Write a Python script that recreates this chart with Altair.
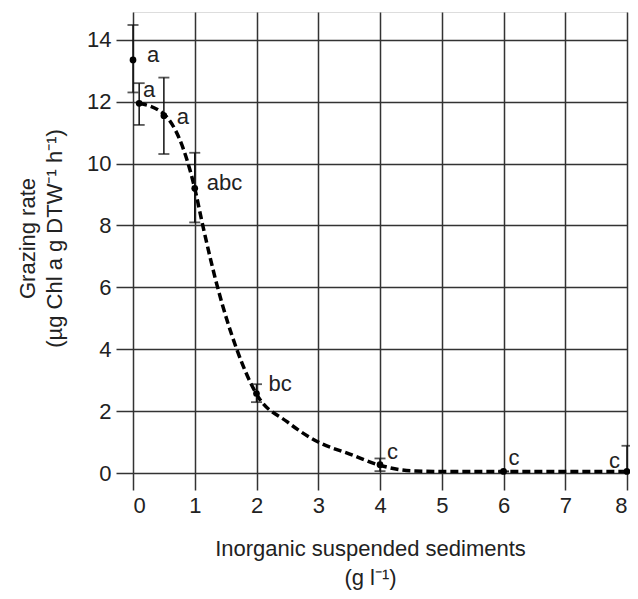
import altair as alt
import pandas as pd

# Observed means with error bars
conc = [0, 0.1, 0.5, 1, 2, 4, 6, 8]
rate = [13.35, 11.95, 11.55, 9.2, 2.57, 0.27, 0.05, 0.05]
err_hi = [14.48, 12.6, 12.78, 10.35, 2.87, 0.47, 0.05, 0.88]
err_lo = [12.3, 11.25, 10.31, 8.1, 2.29, 0.06, 0.05, 0.05]
letters = ["a", "a", "a", "abc", "bc", "c", "c", "c"]

# Fitted dashed curve
curve_x = [0.1, 0.5, 1.0, 1.13, 1.37, 1.68, 2.0, 2.5, 3.0, 3.5, 4.0, 4.5, 5.0, 6.0, 7.0, 8.0]
curve_y = [11.95, 11.6, 9.2, 8.0, 6.0, 4.0, 2.55, 1.65, 1.0, 0.62, 0.25, 0.07, 0.05, 0.05, 0.05, 0.05]

x_ticks = [0, 1, 2, 3, 4, 5, 6, 7, 8]
y_ticks = [0, 2, 4, 6, 8, 10, 12, 14]

# label offsets in pixels (styling)
label_dx = [20, 10, 19, 12, 12, 7, 5, -7]
label_dy = [-5, -13, 1, -5, -9, -13, -13, -10]
label_align = ["center", "center", "center", "left", "left", "left", "left", "right"]

pts = pd.DataFrame({"x": conc, "y": rate, "hi": err_hi, "lo": err_lo, "lab": letters})
curve = pd.DataFrame({"x": curve_x, "y": curve_y})

FONT = "Liberation Sans"

xs = alt.Scale(domain=[0, 8], nice=False, zero=False)
ys = alt.Scale(domain=[0, 14.9], nice=False)

x_axis = alt.Axis(
    values=x_ticks, format="d", title=["Inorganic suspended sediments", "(g l\u207b\u00b9)"],
    grid=True, gridColor="#333", gridWidth=1.5, domain=False,
    tickSize=17, tickWidth=1.5, tickColor="#333",
    labelFontSize=22, labelFont=FONT, labelColor="#222", labelPadding=5,
    titleFontSize=22, titleFont=FONT, titleFontWeight="normal", titleColor="#222",
    titleX=237, titleY=65, titleBaseline="top", titleAlign="center", titleLineHeight=29,
)
y_axis = alt.Axis(
    values=y_ticks, title=["Grazing rate", "(\u00b5g Chl a g DTW\u207b\u00b9  h\u207b\u00b9)"],
    grid=True, gridColor="#333", gridWidth=1.5, domain=False,
    tickSize=17, tickWidth=1.5, tickColor="#333",
    labelFontSize=22, labelFont=FONT, labelColor="#222", labelPadding=5,
    titleFontSize=22, titleFont=FONT, titleFontWeight="normal", titleColor="#222",
    titleX=-116, titleY=226, titleAngle=-90, titleBaseline="top", titleAlign="center",
    titleLineHeight=27,
)

base = alt.Chart(pts)

line = alt.Chart(curve).mark_line(
    color="black", strokeWidth=3.5, strokeDash=[8, 4], interpolate="monotone"
).encode(x=alt.X("x:Q", scale=xs, axis=x_axis), y=alt.Y("y:Q", scale=ys, axis=y_axis))

bars = base.mark_rule(color="#111", strokeWidth=1.5).encode(
    x=alt.X("x:Q", scale=xs), y=alt.Y("lo:Q", scale=ys), y2="hi:Q"
)
cap_hi = base.mark_tick(orient="horizontal", size=11, thickness=1.8, color="#111").encode(
    x=alt.X("x:Q", scale=xs), y=alt.Y("hi:Q", scale=ys)
)
cap_lo = base.mark_tick(orient="horizontal", size=11, thickness=1.8, color="#111").encode(
    x=alt.X("x:Q", scale=xs), y=alt.Y("lo:Q", scale=ys)
)
dots = base.mark_circle(size=45, color="black", opacity=1).encode(
    x=alt.X("x:Q", scale=xs), y=alt.Y("y:Q", scale=ys)
)

layers = [line, bars, cap_hi, cap_lo, dots]
for i in range(len(conc)):
    layers.append(
        alt.Chart(pts.iloc[[i]]).mark_text(
            fontSize=22, font=FONT, color="#222", dx=label_dx[i], dy=label_dy[i],
            align=label_align[i], baseline="middle"
        ).encode(x=alt.X("x:Q", scale=xs), y=alt.Y("y:Q", scale=ys), text="lab:N")
    )

chart = alt.layer(*layers).properties(
    width=494, height=461,
    autosize=alt.AutoSizeParams(type="none"),
    padding={"left": 125, "top": 4, "right": 3, "bottom": 120},
).configure_view(stroke="#333", strokeWidth=1.5).configure(background="white")

chart.save("out.html", embed_options={"renderer": "svg", "actions": False})
